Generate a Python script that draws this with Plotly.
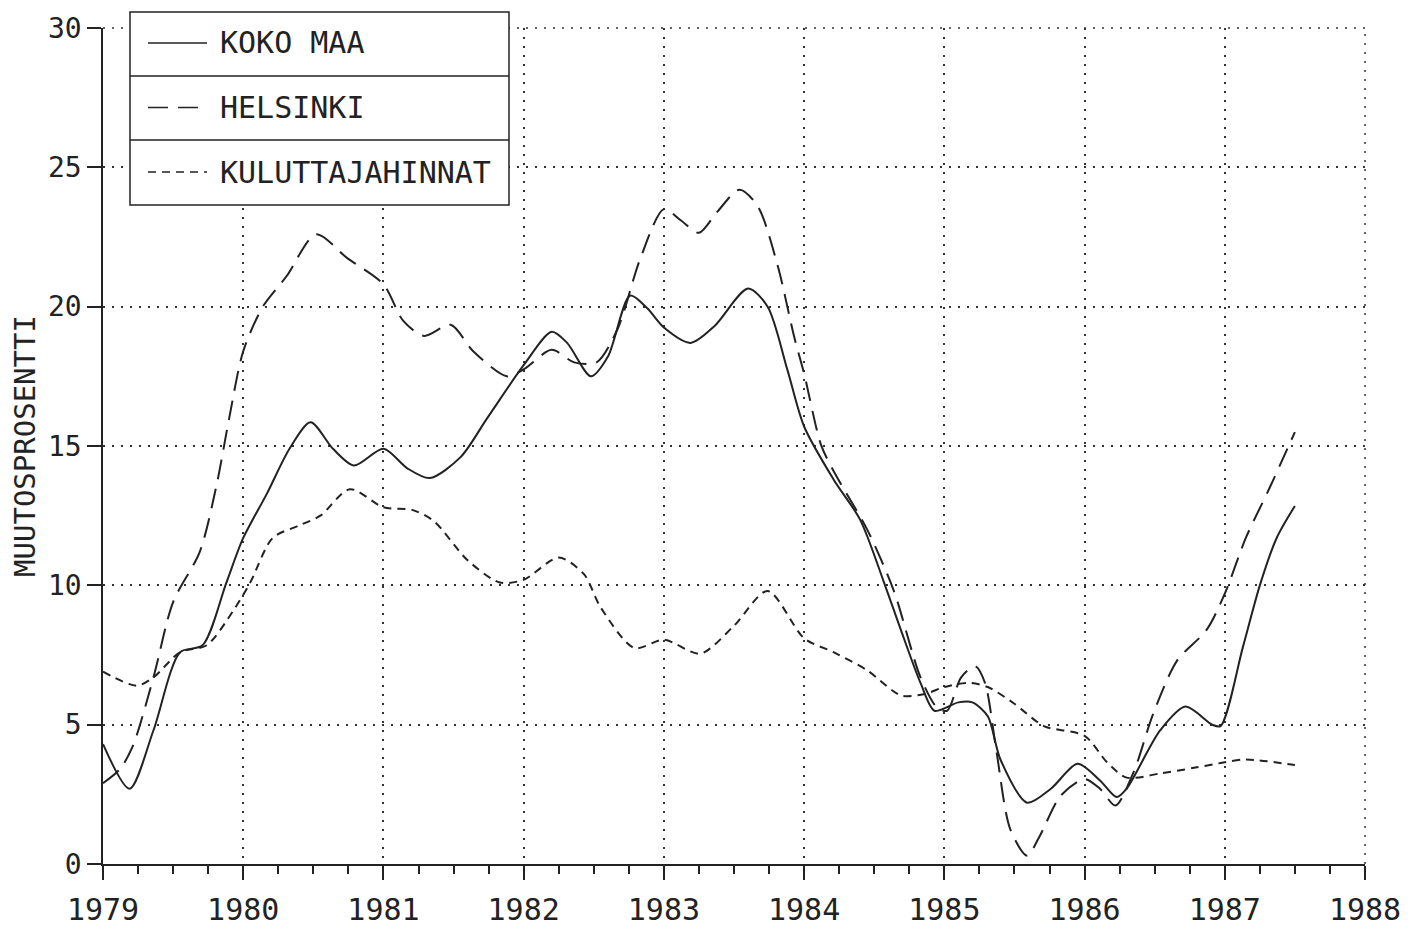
import plotly.graph_objects as go

# KOKO MAA (yhtenäinen viiva)
koko_x = [1979.0, 1979.19, 1979.36, 1979.55, 1979.71, 1979.88, 1980.0, 1980.17, 1980.33, 1980.48,
          1980.64, 1980.79, 1981.0, 1981.17, 1981.33, 1981.55, 1981.74, 1982.0, 1982.2, 1982.31,
          1982.48, 1982.6, 1982.76, 1982.88, 1983.0, 1983.19, 1983.36, 1983.6, 1983.74, 1983.88,
          1984.0, 1984.21, 1984.4, 1984.57, 1984.69, 1984.83, 1984.93, 1985.1, 1985.2, 1985.31,
          1985.4, 1985.59, 1985.76, 1985.95, 1986.11, 1986.23, 1986.3, 1986.54, 1986.72, 1986.91,
          1986.97, 1987.13, 1987.25, 1987.37, 1987.5]
koko_y = [4.3, 2.7, 4.8, 7.6, 7.85, 10.1, 11.7, 13.3, 14.9, 15.85,
          14.9, 14.3, 14.9, 14.2, 13.85, 14.6, 16.0, 17.9, 19.1, 18.7,
          17.5, 18.2, 20.4, 19.95, 19.25, 18.7, 19.3, 20.65, 20.0, 17.75,
          15.7, 13.8, 12.35, 10.1, 8.4, 6.5, 5.5, 5.8, 5.8, 5.3,
          3.75, 2.2, 2.7, 3.6, 3.0, 2.4, 2.7, 4.8, 5.65, 5.0,
          4.95, 7.8, 10.0, 11.7, 12.85]

# HELSINKI (pitkä katkoviiva)
hki_x = [1979.0, 1979.12, 1979.21, 1979.36, 1979.5, 1979.69, 1979.81, 1979.9, 1980.0, 1980.14,
         1980.31, 1980.52, 1980.74, 1981.0, 1981.14, 1981.29, 1981.48, 1981.64, 1981.88, 1982.0,
         1982.2, 1982.36, 1982.52, 1982.67, 1982.83, 1983.0, 1983.12, 1983.25, 1983.38, 1983.54,
         1983.67, 1983.81, 1983.93, 1984.0, 1984.12, 1984.21, 1984.45, 1984.64, 1984.83, 1984.95,
         1985.02, 1985.12, 1985.22, 1985.29, 1985.37, 1985.47, 1985.59, 1985.68, 1985.83, 1986.0,
         1986.11, 1986.22, 1986.35, 1986.49, 1986.66, 1986.87, 1987.0, 1987.15, 1987.32, 1987.5]
hki_y = [2.9, 3.4, 4.2, 6.7, 9.4, 11.2, 13.6, 16.0, 18.4, 20.0,
         21.1, 22.6, 21.75, 20.8, 19.5, 18.95, 19.35, 18.4, 17.5, 17.75,
         18.45, 18.0, 18.0, 19.2, 21.7, 23.5, 23.1, 22.65, 23.4, 24.2,
         23.6, 21.5, 18.9, 17.6, 15.05, 14.1, 12.0, 9.8, 6.7, 5.6,
         5.5, 6.7, 7.1, 6.5, 4.1, 1.25, 0.3, 1.0, 2.45, 3.05,
         2.7, 2.1, 3.3, 5.4, 7.3, 8.4, 9.7, 11.7, 13.5, 15.5]

# KULUTTAJAHINNAT (lyhyt katkoviiva)
kul_x = [1979.0, 1979.24, 1979.36, 1979.55, 1979.74, 1979.93, 1980.05, 1980.21, 1980.4, 1980.55,
         1980.76, 1981.0, 1981.21, 1981.36, 1981.6, 1981.83, 1982.0, 1982.25, 1982.43, 1982.55,
         1982.79, 1983.0, 1983.26, 1983.5, 1983.74, 1984.0, 1984.21, 1984.45, 1984.69, 1984.86,
         1985.0, 1985.17, 1985.31, 1985.5, 1985.71, 1986.0, 1986.16, 1986.3, 1986.54, 1986.78,
         1987.0, 1987.15, 1987.5]
kul_y = [6.9, 6.4, 6.7, 7.6, 7.85, 9.1, 10.1, 11.7, 12.15, 12.5,
         13.45, 12.8, 12.7, 12.3, 10.9, 10.1, 10.2, 11.0, 10.4, 9.2,
         7.75, 8.05, 7.55, 8.55, 9.8, 8.1, 7.6, 6.95, 6.05, 6.1,
         6.35, 6.5, 6.35, 5.75, 4.95, 4.6, 3.65, 3.1, 3.25, 3.45,
         3.65, 3.75, 3.55]

years = list(range(1979, 1989))
legend_names = ["KOKO MAA", "HELSINKI", "KULUTTAJAHINNAT"]

INK = "#222222"
FONT = "DejaVu Sans Mono"
GRID_DASH = "2px,7px"
dashes = ["solid", "20px,10px", "8px,6px"]

fig = go.Figure()
for xs, ys, name, dash in zip([koko_x, hki_x, kul_x], [koko_y, hki_y, kul_y], legend_names, dashes):
    fig.add_trace(go.Scatter(x=xs, y=ys, name=name, mode="lines",
                             line=dict(color=INK, width=2, dash=dash, shape="spline", smoothing=0.8)))

# piirtoalue näytöllä: x 103..1365, y 28..864 (sivun body-marginaali 8px)
X0, Y1, W, H = 103, 864, 1262, 836
def px(xp):
    return (xp - X0) / W
def py(yp):
    return (Y1 - yp) / H

# reunimmaiset pisteviivat (30 ja 1988)
shapes = [
    dict(type="line", xref="paper", yref="paper", x0=0, x1=1, y0=1, y1=1,
         line=dict(color="#333333", width=1.5, dash=GRID_DASH), layer="below"),
    dict(type="line", xref="paper", yref="paper", x0=1, x1=1, y0=0, y1=1,
         line=dict(color="#333333", width=1.5, dash=GRID_DASH), layer="below"),
]
# selite laatikkona
shapes.append(dict(type="rect", xref="paper", yref="paper", x0=px(130), x1=px(509), y0=py(205), y1=py(12),
                   line=dict(color=INK, width=1.5), fillcolor="white", layer="above"))
for yp in [76, 140]:
    shapes.append(dict(type="line", xref="paper", yref="paper", x0=px(130), x1=px(509),
                       y0=py(yp), y1=py(yp), line=dict(color=INK, width=1.5), layer="above"))
annotations = []
for i, (name, dash) in enumerate(zip(legend_names, dashes)):
    yc = 43 + i * 64.5
    shapes.append(dict(type="line", xref="paper", yref="paper", x0=px(148), x1=px(207),
                       y0=py(yc), y1=py(yc), line=dict(color=INK, width=1.5, dash=dash), layer="above"))
    annotations.append(dict(text=name, xref="paper", yref="paper", x=px(218), y=py(yc),
                            xanchor="left", yanchor="middle", showarrow=False,
                            font=dict(family=FONT, size=30, color=INK)))

fig.update_layout(
    width=1413, height=928,
    margin=dict(l=95, r=56, t=20, b=72),
    plot_bgcolor="white", paper_bgcolor="white",
    showlegend=False,
    shapes=shapes, annotations=annotations,
    font=dict(family=FONT, color=INK),
)
fig.update_xaxes(
    range=[1979, 1988], tickmode="array", tickvals=years, ticktext=[str(y) for y in years],
    ticks="outside", ticklen=14, tickwidth=1.5, tickcolor=INK, automargin=False,
    ticklabelstandoff=4,
    showline=True, linecolor=INK, linewidth=1.5, zeroline=False,
    showgrid=True, gridcolor="#333333", gridwidth=1.5, griddash=GRID_DASH,
    tickfont=dict(family=FONT, size=30, color=INK),
    minor=dict(dtick=0.25, tick0=1979, ticks="outside", ticklen=8, tickwidth=1.5,
               tickcolor=INK, showgrid=False),
)
fig.update_yaxes(
    range=[0, 30], dtick=5, tick0=0, automargin=False,
    ticks="outside", ticklen=14, tickwidth=1.5, tickcolor=INK,
    showline=True, linecolor=INK, linewidth=1.5, zeroline=False,
    showgrid=True, gridcolor="#333333", gridwidth=1.5, griddash=GRID_DASH,
    tickfont=dict(family=FONT, size=28, color=INK),
    title=dict(text="MUUTOSPROSENTTI", font=dict(family=FONT, size=29, color=INK), standoff=4),
)

fig.write_html("out.html")
